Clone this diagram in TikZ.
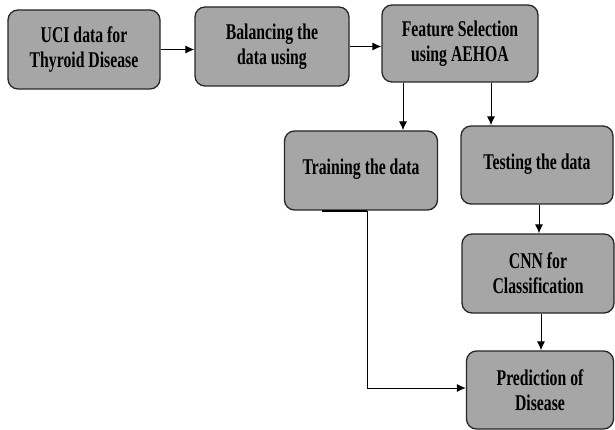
\documentclass[tikz,border=0pt]{standalone}
\usepackage{fontspec}
\setmainfont{Liberation Serif}
\newfontfamily\condfont[FakeStretch=0.7]{Liberation Serif}
\usetikzlibrary{arrows.meta,calc}
\tikzset{
  box/.style={draw=black!85, line width=1.3pt, rounded corners=10pt, fill=black!35,
    align=center, inner sep=0pt, font=\condfont\bfseries\fontsize{22.5}{25}\selectfont},
  arr/.style={draw=black, line width=1pt, -{Latex[length=9pt,width=8pt]}}
}
\begin{document}
\begin{tikzpicture}[x=1pt,y=-1pt]
\useasboundingbox (0,0) rectangle (615,430);
\node[box, minimum width=152pt, minimum height=79pt] (b1) at (84,49.5) {UCI data for\\Thyroid Disease};
\node[box, minimum width=154pt, minimum height=79pt] (b2) at (272,46.5) {\raisebox{3pt}{Balancing the}\\\raisebox{3pt}{data using}};
\node[box, minimum width=156pt, minimum height=77pt] (b3) at (460,43.5) {\raisebox{3pt}{Feature Selection}\\\raisebox{3pt}{using AEHOA}};
\node[box, minimum width=153pt, minimum height=79pt] (b4) at (361,170.5) {\raisebox{7pt}{Training the data}};
\node[box, minimum width=152pt, minimum height=78pt] (b5) at (537,165) {\raisebox{7pt}{Testing the data}};
\node[box, minimum width=152pt, minimum height=79pt] (cnn) at (538,273.5) {CNN for\\Classification};
\node[box, minimum width=147pt, minimum height=78pt] (pred) at (540,390) {Prediction of\\Disease};
\draw[arr] (b1.east) -- (b1.east -| b2.west);
\draw[arr] (b2.east) -- (b2.east -| b3.west);
\draw[arr] ([xshift=-57pt]b3.south) -- ([xshift=-57pt]b3.south |- b4.north);
\draw[arr] ([xshift=31pt]b3.south) -- ([xshift=31pt]b3.south |- b5.north);
\draw[arr] ([xshift=2pt]b5.south) -- ([xshift=2pt]b5.south |- cnn.north);
\draw[arr] ([xshift=3pt]cnn.south) -- ([xshift=3pt]cnn.south |- pred.north);
\draw[arr] ([xshift=6pt]b4.south) |- ([yshift=2pt]pred.west);
\draw[line width=2.2pt] ([xshift=-39pt]b4.south) -- ([xshift=6pt]b4.south);
\end{tikzpicture}
\end{document}
